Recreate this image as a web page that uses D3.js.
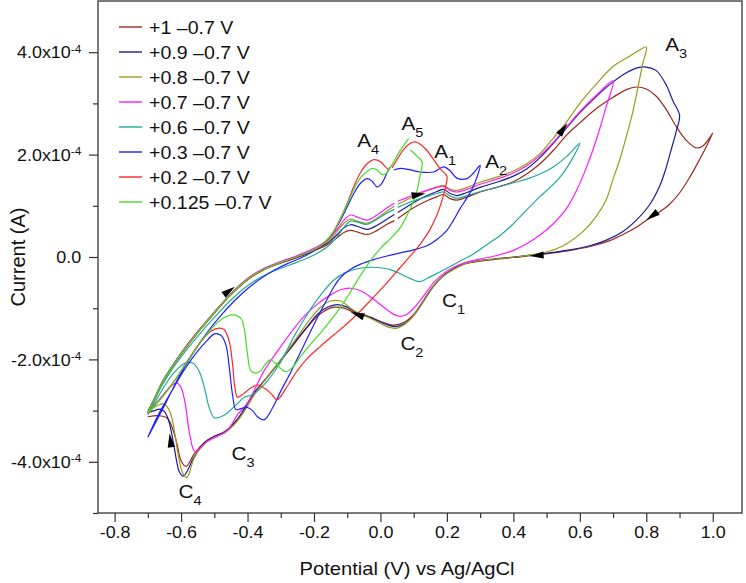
<!DOCTYPE html>
<html>
<head>
<meta charset="utf-8">
<script src="https://cdn.jsdelivr.net/npm/d3@7"></script>
<style>
  body { margin: 0; background: #fff; }
  text { font-family: Arial, "Liberation Sans", Helvetica, sans-serif; fill: #111; }
</style>
</head>
<body>
<svg id="chart" width="746" height="583"></svg>
<script>
// Cyclic voltammograms, potential in V vs Ag/AgCl, current in units of 1e-4 A.
// Each loop: forward sweep from -0.7 V up to the vertex, then back down.
// null marks the small breaks visible in the recorded traces.
const cv100 = [[-0.70,-3.05],[-0.68,-2.78],[-0.66,-2.50],[-0.63,-2.18],[-0.60,-1.90],[-0.55,-1.48],[-0.50,-1.10],[-0.45,-0.74],[-0.40,-0.45],[-0.35,-0.25],[-0.30,-0.12],[-0.25,-0.01],[-0.20,0.12],[-0.16,0.24],[-0.13,0.38],[-0.11,0.48],[-0.09,0.52],[-0.07,0.49],[-0.04,0.44],[-0.01,0.52],[0.02,0.64],[0.042,0.71],null,[0.052,0.75],[0.08,0.88],[0.11,1.00],[0.14,1.10],[0.17,1.18],[0.19,1.22],[0.21,1.14],[0.23,1.11],[0.26,1.17],[0.30,1.27],[0.35,1.36],[0.40,1.47],[0.44,1.62],[0.48,1.82],[0.52,2.08],[0.56,2.38],[0.60,2.62],[0.65,2.90],[0.70,3.12],[0.74,3.27],[0.77,3.32],[0.80,3.28],[0.83,3.14],[0.86,2.88],[0.89,2.55],[0.92,2.28],[0.95,2.13],[0.97,2.17],[0.99,2.32],[1.00,2.42],
  [0.98,2.15],[0.96,1.90],[0.93,1.55],[0.90,1.25],[0.87,1.03],[0.84,0.88],[0.81,0.76],[0.77,0.58],[0.73,0.44],[0.69,0.32],[0.64,0.22],[0.58,0.14],[0.52,0.08],[0.46,0.03],[0.40,-0.01],[0.34,-0.05],[0.29,-0.09],[0.25,-0.14],[0.22,-0.24],[0.19,-0.36],[0.16,-0.56],[0.13,-0.84],[0.10,-1.12],[0.07,-1.28],[0.04,-1.33],[0.01,-1.28],[-0.02,-1.20],[-0.05,-1.13],[-0.08,-1.08],[-0.11,-1.00],[-0.14,-0.98],[-0.17,-1.06],[-0.20,-1.22],[-0.23,-1.45],[-0.26,-1.70],[-0.30,-2.02],[-0.34,-2.34],[-0.38,-2.65],[-0.43,-3.18],[-0.47,-3.42],[-0.50,-3.50],[-0.53,-3.62],[-0.56,-3.84],[-0.585,-4.09],[-0.60,-3.98],[-0.613,-3.63],[-0.628,-3.31],[-0.643,-3.14],[-0.668,-3.10],[-0.70,-3.12]];

const cv090 = [[-0.70,-3.02],[-0.68,-2.76],[-0.66,-2.48],[-0.63,-2.16],[-0.60,-1.88],[-0.55,-1.46],[-0.50,-1.08],[-0.45,-0.72],[-0.40,-0.43],[-0.35,-0.24],[-0.30,-0.11],[-0.25,0.00],[-0.20,0.14],[-0.16,0.27],[-0.13,0.44],[-0.11,0.57],[-0.09,0.63],[-0.07,0.60],[-0.04,0.54],[-0.01,0.62],[0.02,0.74],[0.042,0.83],null,[0.052,0.87],[0.08,0.98],[0.11,1.10],[0.14,1.20],[0.17,1.28],[0.19,1.32],[0.21,1.24],[0.23,1.20],[0.26,1.26],[0.30,1.36],[0.35,1.46],[0.40,1.58],[0.44,1.72],[0.48,1.94],[0.52,2.22],[0.56,2.52],[0.60,2.82],[0.65,3.14],[0.70,3.42],[0.74,3.60],[0.77,3.69],[0.80,3.71],[0.83,3.64],[0.86,3.36],[0.88,3.05],[0.90,2.77],
  [0.89,2.45],[0.875,2.10],[0.86,1.75],[0.84,1.38],[0.81,1.02],[0.77,0.72],[0.73,0.50],[0.68,0.33],[0.63,0.22],[0.57,0.14],[0.52,0.09],[0.46,0.04],[0.40,0.00],[0.34,-0.04],[0.29,-0.08],[0.25,-0.13],[0.22,-0.23],[0.19,-0.36],[0.16,-0.57],[0.13,-0.86],[0.10,-1.14],[0.07,-1.31],[0.045,-1.36],[0.02,-1.32],[-0.01,-1.24],[-0.04,-1.16],[-0.07,-1.10],[-0.10,-0.98],[-0.13,-0.93],[-0.16,-0.98],[-0.19,-1.12],[-0.22,-1.36],[-0.26,-1.68],[-0.30,-2.02],[-0.34,-2.34],[-0.38,-2.66],[-0.43,-3.16],[-0.47,-3.42],[-0.50,-3.50],[-0.53,-3.63],[-0.56,-3.90],[-0.593,-4.28],[-0.605,-4.20],[-0.613,-4.00],[-0.623,-3.63],[-0.638,-3.18],[-0.65,-3.02],[-0.663,-2.97],[-0.68,-3.00],[-0.70,-3.04]];

const cv080 = [[-0.70,-3.04],[-0.68,-2.77],[-0.66,-2.49],[-0.63,-2.17],[-0.60,-1.88],[-0.55,-1.46],[-0.50,-1.08],[-0.45,-0.72],[-0.40,-0.43],[-0.35,-0.23],[-0.30,-0.10],[-0.25,0.01],[-0.20,0.15],[-0.16,0.30],[-0.13,0.50],[-0.11,0.66],[-0.09,0.74],[-0.07,0.70],[-0.04,0.66],[-0.01,0.76],[0.02,0.90],[0.042,0.99],null,[0.052,1.03],[0.08,1.12],[0.11,1.22],[0.14,1.30],[0.17,1.37],[0.19,1.40],[0.21,1.32],[0.23,1.30],[0.26,1.36],[0.30,1.46],[0.35,1.56],[0.40,1.68],[0.44,1.82],[0.48,2.02],[0.52,2.32],[0.55,2.55],[0.60,3.00],[0.65,3.38],[0.70,3.72],[0.75,3.92],[0.80,4.10],
  [0.79,3.80],[0.775,3.32],[0.76,2.85],[0.74,2.35],[0.72,1.90],[0.70,1.52],[0.68,1.13],[0.65,0.80],[0.61,0.50],[0.57,0.30],[0.53,0.16],[0.48,0.07],[0.42,0.01],[0.36,-0.03],[0.30,-0.07],[0.26,-0.12],[0.23,-0.21],[0.20,-0.32],[0.17,-0.48],[0.14,-0.74],[0.11,-1.05],[0.08,-1.28],[0.05,-1.39],[0.03,-1.38],[0.00,-1.30],[-0.03,-1.20],[-0.06,-1.12],[-0.09,-1.00],[-0.12,-0.86],[-0.15,-0.86],[-0.18,-0.98],[-0.21,-1.20],[-0.25,-1.56],[-0.29,-1.92],[-0.33,-2.26],[-0.37,-2.60],[-0.43,-3.20],[-0.47,-3.44],[-0.50,-3.52],[-0.53,-3.65],[-0.56,-3.92],[-0.583,-4.31],[-0.595,-4.22],[-0.608,-3.89],[-0.62,-3.40],[-0.635,-3.00],[-0.653,-2.87],[-0.67,-2.90],[-0.70,-3.02]];

const cv070 = [[-0.70,-3.06],[-0.68,-2.78],[-0.66,-2.50],[-0.63,-2.17],[-0.60,-1.88],[-0.55,-1.46],[-0.50,-1.08],[-0.45,-0.72],[-0.40,-0.42],[-0.35,-0.22],[-0.30,-0.09],[-0.25,0.03],[-0.20,0.17],[-0.16,0.33],[-0.13,0.54],[-0.11,0.72],[-0.09,0.82],[-0.07,0.78],[-0.04,0.72],[-0.01,0.82],[0.02,0.96],[0.042,1.05],null,[0.052,1.09],[0.08,1.16],[0.11,1.24],[0.14,1.30],[0.17,1.36],[0.19,1.38],[0.21,1.30],[0.23,1.27],[0.26,1.32],[0.30,1.42],[0.35,1.52],[0.40,1.64],[0.44,1.78],[0.48,1.98],[0.52,2.24],[0.56,2.54],[0.60,2.84],[0.65,3.16],[0.70,3.44],
  [0.68,2.95],[0.65,2.30],[0.62,1.75],[0.59,1.30],[0.56,0.95],[0.52,0.65],[0.48,0.43],[0.44,0.26],[0.40,0.13],[0.35,0.03],[0.30,-0.04],[0.26,-0.10],[0.22,-0.20],[0.19,-0.32],[0.16,-0.50],[0.13,-0.76],[0.10,-1.00],[0.08,-1.12],[0.06,-1.16],[0.04,-1.12],[0.01,-0.98],[-0.03,-0.78],[-0.06,-0.66],[-0.09,-0.61],[-0.12,-0.64],[-0.15,-0.74],[-0.19,-0.92],[-0.23,-1.16],[-0.27,-1.48],[-0.31,-1.84],[-0.35,-2.22],[-0.40,-2.85],[-0.43,-3.08],[-0.46,-3.38],[-0.49,-3.50],[-0.52,-3.60],[-0.558,-3.80],[-0.573,-3.50],[-0.588,-2.85],[-0.60,-2.55],[-0.613,-2.46],[-0.63,-2.52],[-0.65,-2.66],[-0.67,-2.82],[-0.70,-3.06]];

const cv060 = [[-0.70,-3.08],[-0.68,-2.80],[-0.66,-2.54],[-0.63,-2.22],[-0.60,-1.95],[-0.55,-1.55],[-0.50,-1.18],[-0.45,-0.84],[-0.40,-0.56],[-0.35,-0.36],[-0.30,-0.22],[-0.25,-0.10],[-0.20,0.04],[-0.16,0.20],[-0.13,0.40],[-0.11,0.58],[-0.09,0.70],[-0.07,0.68],[-0.04,0.64],[-0.01,0.74],[0.02,0.86],[0.042,0.93],null,[0.052,0.97],[0.08,1.05],[0.11,1.12],[0.14,1.18],[0.17,1.24],[0.19,1.27],[0.21,1.19],[0.23,1.15],[0.26,1.20],[0.30,1.28],[0.35,1.36],[0.40,1.45],[0.44,1.52],[0.48,1.62],[0.52,1.76],[0.56,1.96],[0.60,2.22],
  [0.58,1.95],[0.55,1.64],[0.52,1.42],[0.48,1.18],[0.44,0.92],[0.40,0.65],[0.36,0.42],[0.32,0.24],[0.28,0.06],[0.24,-0.08],[0.20,-0.22],[0.17,-0.32],[0.14,-0.42],[0.12,-0.48],[0.10,-0.45],[0.07,-0.36],[0.04,-0.27],[0.01,-0.22],[-0.03,-0.20],[-0.07,-0.23],[-0.11,-0.32],[-0.14,-0.45],[-0.17,-0.66],[-0.20,-0.92],[-0.23,-1.22],[-0.26,-1.55],[-0.30,-2.05],[-0.34,-2.42],[-0.37,-2.62],[-0.39,-2.70],[-0.41,-2.74],[-0.43,-2.86],[-0.46,-3.04],[-0.48,-3.12],[-0.50,-3.14],[-0.515,-2.95],[-0.53,-2.55],[-0.545,-2.24],[-0.565,-2.07],[-0.59,-2.08],[-0.62,-2.25],[-0.65,-2.52],[-0.675,-2.80],[-0.70,-3.08]];

const cv030 = [[-0.70,-3.52],[-0.65,-2.90],[-0.60,-2.26],[-0.56,-1.84],[-0.52,-1.46],[-0.48,-1.14],[-0.44,-0.86],[-0.40,-0.62],[-0.36,-0.42],[-0.32,-0.26],[-0.28,-0.13],[-0.24,-0.02],[-0.20,0.12],[-0.17,0.27],[-0.145,0.45],[-0.12,0.72],[-0.10,0.98],[-0.08,1.24],[-0.06,1.44],[-0.04,1.53],[-0.025,1.48],[-0.01,1.37],[0.005,1.45],[0.02,1.65],[0.03,1.76],null,[0.04,1.70],[0.06,1.73],[0.09,1.70],[0.12,1.66],[0.16,1.66],[0.19,1.76],[0.21,1.68],[0.23,1.54],[0.26,1.53],[0.28,1.64],[0.30,1.79],
  [0.29,1.55],[0.275,1.32],[0.26,1.15],[0.24,0.95],[0.22,0.72],[0.20,0.52],[0.17,0.34],[0.14,0.22],[0.10,0.14],[0.06,0.08],[0.02,0.02],[-0.02,-0.05],[-0.06,-0.14],[-0.09,-0.24],[-0.12,-0.40],[-0.14,-0.58],[-0.16,-0.82],[-0.18,-1.06],[-0.21,-1.45],[-0.24,-1.85],[-0.27,-2.25],[-0.30,-2.62],[-0.325,-2.95],[-0.35,-3.18],[-0.37,-3.12],[-0.385,-3.00],[-0.40,-2.94],[-0.42,-2.96],[-0.435,-2.98],[-0.445,-2.70],[-0.455,-2.15],[-0.465,-1.72],[-0.48,-1.53],[-0.50,-1.50],[-0.52,-1.62],[-0.55,-1.84],[-0.59,-2.20],[-0.63,-2.64],[-0.67,-3.10],[-0.70,-3.52]];

const cv020 = [[-0.70,-3.05],[-0.68,-2.78],[-0.66,-2.50],[-0.63,-2.17],[-0.60,-1.89],[-0.55,-1.47],[-0.50,-1.09],[-0.45,-0.73],[-0.40,-0.44],[-0.35,-0.24],[-0.30,-0.11],[-0.25,0.01],[-0.20,0.14],[-0.17,0.26],[-0.145,0.45],[-0.12,0.75],[-0.10,1.05],[-0.08,1.38],[-0.06,1.65],[-0.04,1.82],[-0.02,1.90],[0.00,1.86],[0.015,1.76],[0.025,1.70],null,[0.035,1.74],[0.055,1.96],[0.07,2.10],[0.09,2.22],[0.105,2.25],[0.12,2.20],[0.14,2.08],[0.16,1.90],[0.18,1.72],[0.20,1.58],
  [0.195,1.35],[0.185,1.10],[0.17,0.82],[0.15,0.55],[0.12,0.25],[0.09,0.02],[0.06,-0.20],[0.02,-0.50],[-0.02,-0.78],[-0.06,-1.05],[-0.10,-1.30],[-0.14,-1.52],[-0.18,-1.74],[-0.22,-1.98],[-0.25,-2.22],[-0.28,-2.52],[-0.30,-2.72],[-0.312,-2.79],[-0.325,-2.70],[-0.345,-2.58],[-0.37,-2.50],[-0.39,-2.56],[-0.41,-2.66],[-0.43,-2.74],[-0.438,-2.55],[-0.445,-2.10],[-0.455,-1.65],[-0.47,-1.42],[-0.485,-1.39],[-0.51,-1.45],[-0.54,-1.65],[-0.58,-2.02],[-0.62,-2.42],[-0.66,-2.76],[-0.70,-3.05]];

const cv0125 = [[-0.70,-3.05],[-0.68,-2.78],[-0.66,-2.50],[-0.63,-2.17],[-0.60,-1.89],[-0.55,-1.47],[-0.50,-1.09],[-0.45,-0.73],[-0.40,-0.44],[-0.35,-0.24],[-0.30,-0.11],[-0.25,0.01],[-0.20,0.14],[-0.17,0.27],[-0.145,0.46],[-0.12,0.76],[-0.10,1.04],[-0.08,1.32],[-0.06,1.55],[-0.04,1.67],[-0.025,1.73],[-0.01,1.70],[0.005,1.61],[0.015,1.62],[0.03,1.75],[0.05,1.98],[0.07,2.18],[0.085,2.31],null,[0.09,2.09],[0.11,1.97],[0.125,1.86],
  [0.118,1.55],[0.11,1.30],[0.10,1.10],[0.085,0.88],[0.06,0.58],[0.03,0.36],[0.00,0.17],[-0.03,-0.07],[-0.06,-0.36],[-0.09,-0.68],[-0.12,-0.98],[-0.15,-1.24],[-0.18,-1.48],[-0.21,-1.70],[-0.24,-1.94],[-0.265,-2.16],[-0.285,-2.24],[-0.30,-2.18],[-0.315,-2.08],[-0.33,-2.01],[-0.345,-2.08],[-0.36,-2.22],[-0.375,-2.27],[-0.39,-2.22],[-0.40,-1.90],[-0.41,-1.40],[-0.42,-1.20],[-0.445,-1.13],[-0.47,-1.18],[-0.50,-1.34],[-0.54,-1.66],[-0.58,-2.03],[-0.62,-2.42],[-0.66,-2.76],[-0.70,-3.05]];

const seriesNames = ["+1 \u20130.7 V", "+0.9 \u20130.7 V", "+0.8 \u20130.7 V", "+0.7 \u20130.7 V",
                     "+0.6 \u20130.7 V", "+0.3 \u20130.7 V", "+0.2 \u20130.7 V", "+0.125 \u20130.7 V"];
const seriesColors = ["#9b2a1e", "#1c1c96", "#9c9a1c", "#ff1aff", "#23a99c", "#1f1fff", "#ff2626", "#44dd22"];
const seriesData = [cv100, cv090, cv080, cv070, cv060, cv030, cv020, cv0125];

const xMajor = [-0.8, -0.6, -0.4, -0.2, 0, 0.2, 0.4, 0.6, 0.8, 1.0];
const xMinor = [-0.7, -0.5, -0.3, -0.1, 0.1, 0.3, 0.5, 0.7, 0.9];
const yMajor = [-4e-4, -2e-4, 0, 2e-4, 4e-4];
const yMinor = [-5e-4, -3e-4, -1e-4, 1e-4, 3e-4];

// peak labels: letter, subscript, anchor in data units (V, 1e-4 A)
const peakLabels = [
  {t: "A", s: "1", e: 0.162, i: 1.94},
  {t: "A", s: "2", e: 0.315, i: 1.74},
  {t: "A", s: "3", e: 0.857, i: 4.03},
  {t: "A", s: "4", e: -0.070, i: 2.15},
  {t: "A", s: "5", e: 0.063, i: 2.48},
  {t: "C", s: "1", e: 0.185, i: -0.97},
  {t: "C", s: "2", e: 0.060, i: -1.81},
  {t: "C", s: "3", e: -0.448, i: -3.96},
  {t: "C", s: "4", e: -0.608, i: -4.71}
];

// sweep-direction arrows: position and a point it heads toward
const arrows = [
  {at: [-0.455, -0.66], to: [-0.40, -0.40]},
  {at: [0.115, 1.22], to: [0.17, 1.28]},
  {at: [0.55, 2.50], to: [0.60, 2.95]},
  {at: [0.817, 0.80], to: [0.77, 0.58]},
  {at: [0.47, 0.03], to: [0.40, 0.00]},
  {at: [-0.07, -1.12], to: [-0.12, -1.00]},
  {at: [-0.632, -3.58], to: [-0.640, -3.15]}
];

const SX = 1.12; // the reference lettering is slightly wider than tall
const svg = d3.select("#chart");
const margin = {left: 98, right: 742, top: 1, bottom: 513};

const x = d3.scaleLinear().domain([-0.85, 1.088]).range([margin.left, margin.right]);
const y = d3.scaleLinear().domain([-5e-4, 5e-4]).range([margin.bottom, margin.top]);
const unit = 1e-4;

// ticks
const gxMinor = svg.append("g").attr("transform", `translate(0,${margin.bottom})`)
  .call(d3.axisBottom(x).tickValues(xMinor).tickSize(5).tickFormat(""));
const gx = svg.append("g").attr("transform", `translate(0,${margin.bottom})`)
  .call(d3.axisBottom(x).tickValues(xMajor).tickSize(9).tickPadding(5).tickFormat(d => d.toFixed(1)));
const gyMinor = svg.append("g").attr("transform", `translate(${margin.left},0)`)
  .call(d3.axisLeft(y).tickValues(yMinor).tickSize(5).tickFormat(""));
const gy = svg.append("g").attr("transform", `translate(${margin.left},0)`)
  .call(d3.axisLeft(y).tickValues(yMajor).tickSize(9).tickPadding(6).tickFormat(""));

[gxMinor, gx, gyMinor, gy].forEach(g => {
  g.select(".domain").remove();
  g.selectAll("line").attr("stroke", "#333").attr("stroke-width", 1.2);
});

gx.selectAll("text")
  .attr("font-size", 16).attr("fill", "#111")
  .attr("transform", `scale(${SX},1)`);

gy.selectAll(".tick text").each(function(d) {
  const t = d3.select(this).attr("font-size", 16).attr("fill", "#111")
    .attr("dy", "0.36em").attr("transform", `scale(${SX},1)`);
  if (d === 0) {
    t.text("0.0");
  } else {
    const m = (d / unit).toFixed(1);
    t.text(null);
    t.append("tspan").text(m + "x10");
    t.append("tspan").attr("dy", "-0.55em").attr("font-size", 10.5).text("-4");
  }
});

// frame
svg.append("rect")
  .attr("x", margin.left).attr("y", margin.top)
  .attr("width", margin.right - margin.left).attr("height", margin.bottom - margin.top)
  .attr("fill", "none").attr("stroke", "#333").attr("stroke-width", 1.3);

// curves
const line = d3.line()
  .defined(d => d !== null)
  .x(d => x(d[0]))
  .y(d => y(d[1] * unit))
  .curve(d3.curveCatmullRom.alpha(0.5));

svg.append("g").selectAll("path")
  .data(seriesData)
  .join("path")
  .attr("d", line)
  .attr("fill", "none")
  .attr("stroke", (d, i) => seriesColors[i])
  .attr("stroke-width", 1.2)
  .attr("stroke-linejoin", "round");

// arrows
svg.append("g").selectAll("path")
  .data(arrows)
  .join("path")
  .attr("d", "M7,0 L-7,-3.6 L-7,3.6 Z")
  .attr("fill", "#000")
  .attr("transform", d => {
    const px = x(d.at[0]), py = y(d.at[1] * unit);
    const ang = Math.atan2(y(d.to[1] * unit) - py, x(d.to[0]) - px) * 180 / Math.PI;
    return `translate(${px},${py}) rotate(${ang})`;
  });

// peak labels
const pl = svg.append("g").selectAll("text")
  .data(peakLabels)
  .join("text")
  .attr("font-size", 18.5)
  .attr("transform", d => `translate(${x(d.e)},${y(d.i * unit)}) scale(${SX},1)`);
pl.append("tspan").text(d => d.t);
pl.append("tspan").attr("dy", 7).attr("font-size", 13).text(d => d.s);

// legend
const legend = svg.append("g").selectAll("g")
  .data(seriesNames)
  .join("g")
  .attr("transform", (d, i) => `translate(119,${27 + i * 25})`);
legend.append("line")
  .attr("x1", 0).attr("x2", 23)
  .attr("stroke", (d, i) => seriesColors[i]).attr("stroke-width", 1.4);
legend.append("text")
  .attr("transform", `translate(30,6.5) scale(${SX},1)`)
  .attr("font-size", 17.5)
  .text(d => d);

// axis titles
svg.append("text")
  .attr("transform", `translate(${x(0.08)},575) scale(${SX},1)`)
  .attr("text-anchor", "middle").attr("font-size", 18)
  .text("Potential (V) vs Ag/AgCl");
svg.append("text")
  .attr("transform", `translate(25,${(margin.top + margin.bottom) / 2}) rotate(-90)`)
  .attr("text-anchor", "middle").attr("font-size", 20)
  .text("Current (A)");
</script>
</body>
</html>
